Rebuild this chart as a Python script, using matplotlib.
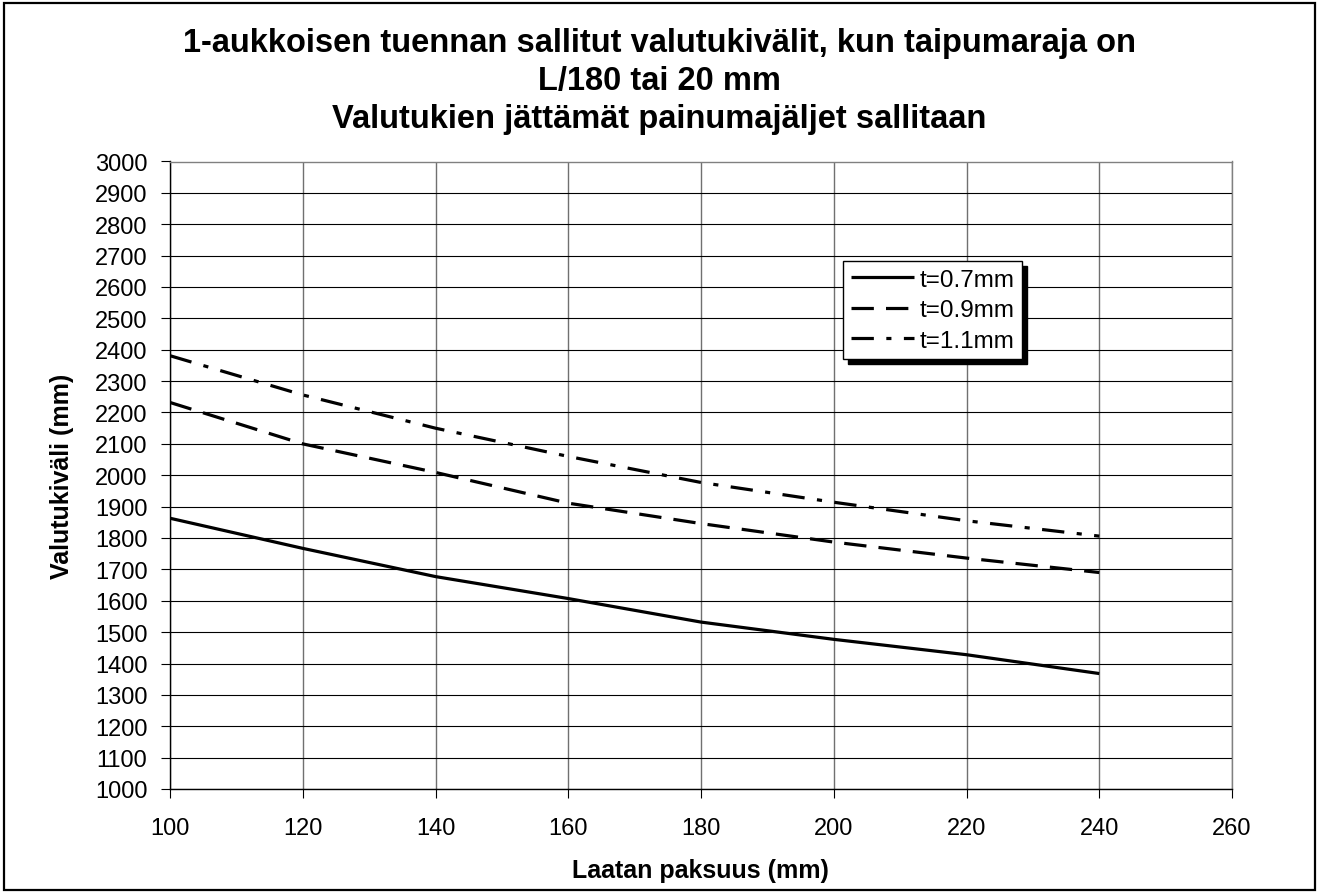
import matplotlib
matplotlib.use("Agg")
import matplotlib.pyplot as plt
from matplotlib.patches import Rectangle

plt.rcParams["font.family"] = ["Liberation Sans", "DejaVu Sans"]

# data
thickness = [100, 120, 140, 160, 180, 200, 220, 240]
t07 = [1863, 1767, 1677, 1607, 1532, 1477, 1428, 1368]
t09 = [2232, 2100, 2009, 1911, 1846, 1787, 1736, 1690]
t11 = [2381, 2256, 2150, 2060, 1977, 1914, 1855, 1806]
series_labels = ["t=0.7mm", "t=0.9mm", "t=1.1mm"]

title = ("1-aukkoisen tuennan sallitut valutukivälit, kun taipumaraja on\n"
         "L/180 tai 20 mm\n"
         "Valutukien jättämät painumajäljet sallitaan")

W, H = 1319, 895
fig = plt.figure(figsize=(W / 100, H / 100), dpi=100)
ax = fig.add_axes([170 / W, 1 - 790 / H, (1232 - 170) / W, (790 - 162.5) / H])

lw = 2.3
ax.plot(thickness, t07, color="k", lw=lw, label=series_labels[0], solid_capstyle="butt")
ax.plot(thickness, t09, color="k", lw=lw, label=series_labels[1],
        dashes=(7.0, 3.8), dash_capstyle="butt")
ax.plot(thickness, t11, color="k", lw=lw, label=series_labels[2],
        dashes=(7.0, 3.9, 1.6, 3.9), dash_capstyle="butt")

ax.set_xlim(100, 260)
ax.set_ylim(1000, 3000)
ax.set_xticks(range(100, 261, 20))
ax.set_yticks(range(1000, 3001, 100))
ax.tick_params(axis="both", labelsize=17, direction="out", length=6.2, width=0.8, color="k")
ax.tick_params(axis="x", pad=14)
ax.tick_params(axis="y", pad=10)

ax.grid(axis="y", color="k", lw=0.8)
ax.grid(axis="x", color="#707070", lw=1.0)
ax.set_axisbelow(True)
for side in ["left", "bottom"]:
    ax.spines[side].set_color("k")
    ax.spines[side].set_linewidth(1.0)
for side in ["top", "right"]:
    ax.spines[side].set_color("#808080")
    ax.spines[side].set_linewidth(1.0)

fig.text(700 / W, 1 - 871 / H, "Laatan paksuus (mm)", ha="center", va="center",
         fontsize=18, fontweight="bold")
fig.text(62 / W, 1 - 476 / H, "Valutukiväli (mm)", ha="center", va="center",
         rotation=90, fontsize=18, fontweight="bold")

fig.text(0.5, 1 - 81.5 / H, title, ha="center", va="center", fontsize=23.5,
         fontweight="bold", linespacing=1.3)

leg = ax.legend(loc="upper left", bbox_to_anchor=(0.634, 0.841), borderaxespad=0,
                fontsize=17.5, frameon=True, fancybox=False, edgecolor="k",
                framealpha=1, handlelength=2.6, handletextpad=0.25,
                labelspacing=0.35, borderpad=0.3,
                shadow={"ox": 3.6, "oy": -3.6, "facecolor": "k",
                        "edgecolor": "k", "alpha": 1})
leg.get_frame().set_linewidth(1.0)

fig.patches.append(Rectangle((4 / W, 4 / H), 1 - 8 / W, 1 - 8 / H,
                             transform=fig.transFigure, fill=False,
                             edgecolor="k", lw=1.6))

plt.savefig("out.png", dpi=100)
plt.close()
